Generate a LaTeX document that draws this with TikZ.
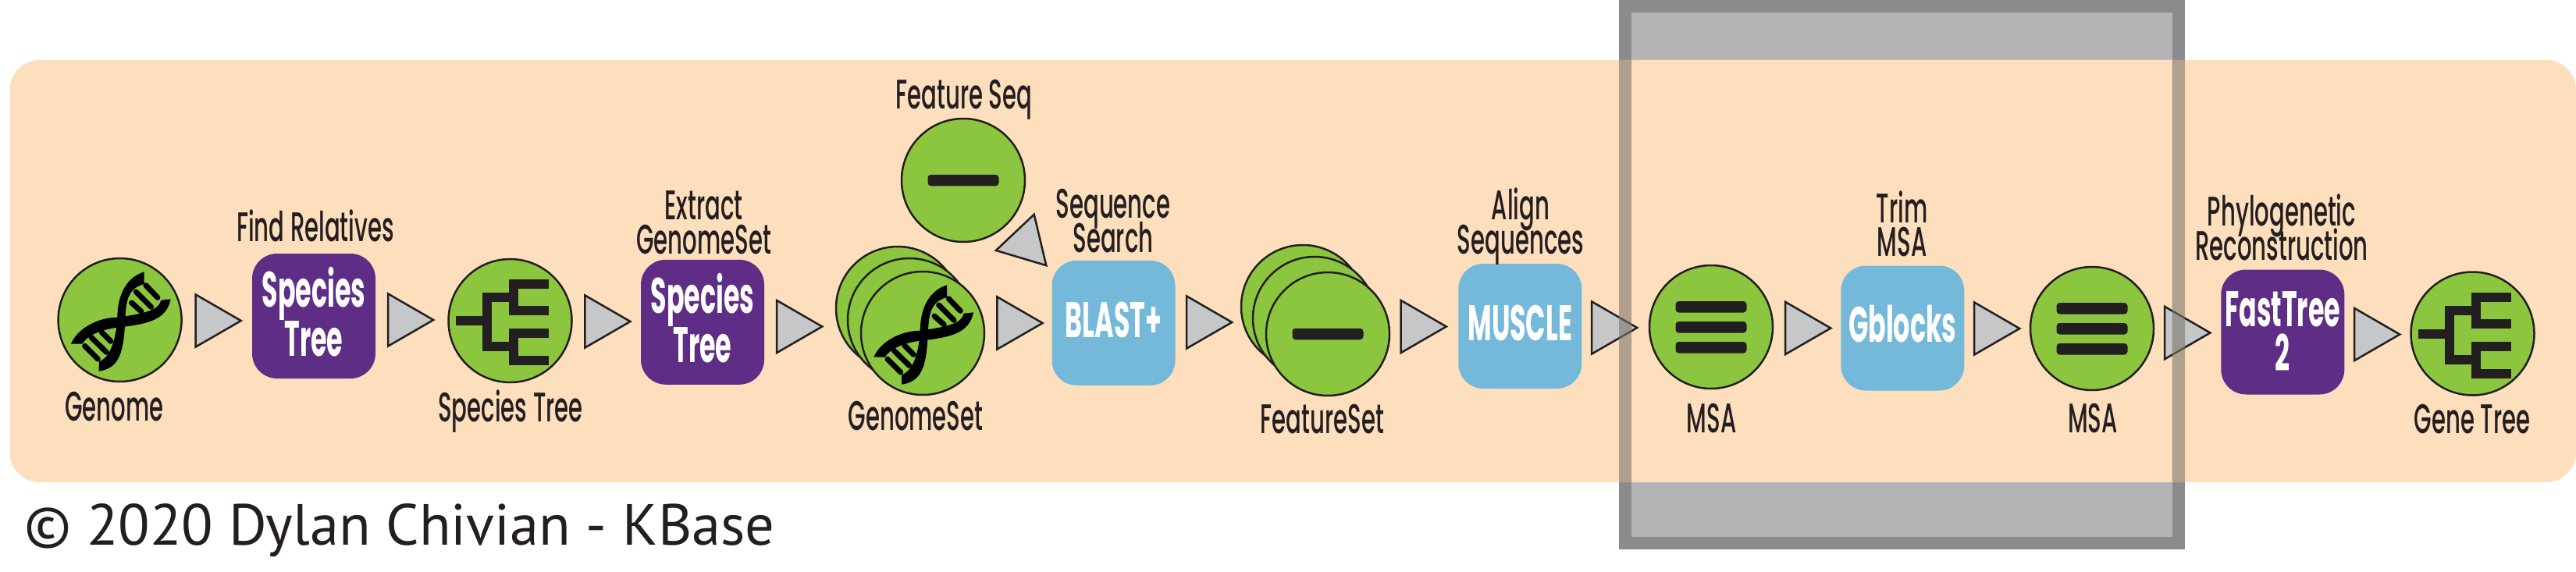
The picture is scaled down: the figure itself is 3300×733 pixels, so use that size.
\documentclass[tikz,border=0pt]{standalone}
\usepackage{fontspec}
\usetikzlibrary{arrows.meta,calc}
\setmainfont{Poppins Medium}[FakeStretch=0.55]
\newfontfamily\boxf{Poppins}[FakeStretch=0.52]
\newfontfamily\copyf{PT Sans}
\definecolor{peach}{HTML}{FDDFBD}
\definecolor{frameout}{HTML}{8B8B8D}
\definecolor{frameinn}{HTML}{B4B4B6}
\definecolor{frameover}{HTML}{7D766D}
\definecolor{leaf}{HTML}{8CC63F}
\definecolor{royal}{HTML}{5E2D85}
\definecolor{sky}{HTML}{74B9DA}
\definecolor{tipgray}{HTML}{C5C7C9}
\definecolor{ink}{HTML}{231F20}
\AtBeginDocument{\lineskiplimit=-1000pt\relax}
\newcommand\tline[2]{\raisebox{-#1}[0pt][0pt]{#2}}
\tikzset{
  datum/.style={circle,draw=ink,fill=leaf,line width=1.25pt,minimum size=79pt,inner sep=0pt},
  tool/.style={rectangle,rounded corners=16pt,draw=none,minimum width=79pt,minimum height=80pt,inner sep=0pt,outer sep=0pt,text=white,align=center,font=\boxf\bfseries\fontsize{32pt}{#1}\selectfont},
  royalbox/.style={tool=#1,fill=royal},
  royalbox/.default=31.5pt,
  skybox/.style={tool=30pt,fill=sky},
  lbl/.style={anchor=base,text=ink,align=center,inner sep=0pt,font=\fontsize{26.5pt}{#1}\selectfont},
  lbl/.default=21.7pt,
  flow/.style={draw=ink,line width=1.25pt,-{Triangle[length=31pt,width=35.5pt,fill=tipgray]}},
  pics/helix/.style={code={
    \fill[black] (31,-61.7) .. controls (10,-55) and (-3,-35) .. (-3.3,-3)
       .. controls (-5,25) and (-12,48) .. (-26.7,53.3) -- (-27,65.7)
       .. controls (0,62) and (5,40) .. (6.7,0.7)
       .. controls (8,-20) and (8,-40) .. (31,-46) -- cycle;
    \fill[black] (-62.7,30.7) .. controls (-55,12) and (-30,-3) .. (-3.3,-3.3)
       .. controls (30,-8) and (50,-12) .. (52.7,-25.3) -- (65,-26.7)
       .. controls (60,0) and (35,5) .. (3,9)
       .. controls (-20,11) and (-40,18) .. (-48.3,30.7) -- cycle;
    \draw[black,line width=3.5pt,line cap=round]
       (33.3,-44.3)--(48.3,-28.7) (20.7,-36)--(40,-16.7) (15,-22)--(27.3,-11)
       (-23.3,15.7)--(-11.7,27.3) (-36.7,22.3)--(-17.3,41.3) (-45,33.3)--(-28.3,50);
  }},
  pics/treeicon/.style={code={
    \draw[ink,line width=6pt] (-70,0)--(-30,0) (4,-30)--(-30,-30)--(-30,33)--(4,33)
      (49,-47)--(4,-47)--(4,-13)--(49,-13) (49,16)--(4,16)--(4,51)--(49,51);
  }},
  pics/dash/.style={code={
    \fill[ink,rounded corners=2pt] (-45.5,-7.25) rectangle (45.5,7.25);
  }},
  pics/bars/.style={code={
    \fill[ink,rounded corners=2pt] (-45.5,-33) rectangle (45.5,-18.5) (-45.5,-7) rectangle (45.5,7.5) (-45.5,19) rectangle (45.5,33.5);
  }}
}
\newcommand\flowtip[5]{\draw[flow,shorten <=#4*0.5pt,shorten >=#5*0.5pt] (#1.east |- 0,#3) -- (#2.west |- 0,#3);}
\begin{document}
\begin{tikzpicture}[x=0.5pt,y=-0.5pt]
\useasboundingbox (0,0) rectangle (3300,733);
% grey frame behind the band
\fill[frameout] (2074,0) rectangle (2799,703.6);
\fill[frameinn] (2090,16) rectangle (2782.6,688);
% band
\fill[peach,rounded corners=19pt] (12.6,77) rectangle (3300,618);
% data and tools
\node[datum] (genome) at (153.6,410) {};
\pic at (genome.center) {helix};
\node[royalbox] (findrel) at (402,405) {\tline{10pt}{Species}\\\tline{10pt}{Tree}};
\node[datum] (sptree) at (653.5,411) {};
\pic at (sptree.center) {treeicon};
\node[royalbox] (extract) at (900,412.8) {\tline{10pt}{Species}\\\tline{10pt}{Tree}};
\node[datum] (gsa) at (1150,395) {};
\node[datum] (gsb) at (1165,410) {};
\node[datum] (gsc) at (1182,427) {};
\pic at (gsc.center) {helix};
\node[datum] (fseq) at (1234,231) {};
\pic at (fseq.center) {dash};
\node[skybox] (blast) at (1426.5,413.8) {\tline{9.3pt}{BLAST+}};
\node[datum] (fsa) at (1669,393) {};
\node[datum] (fsb) at (1684,408) {};
\node[datum] (fsc) at (1701,428) {};
\pic at (fsc.center) {dash};
\node[skybox] (muscle) at (1947.3,418) {\tline{9.3pt}{MUSCLE}};
\node[datum] (msaa) at (2192,419) {};
\pic at (msaa.center) {bars};
\node[skybox] (gblocks) at (2437.3,420.5) {\tline{9pt}{Gblocks}};
\node[datum] (msab) at (2680,421) {};
\pic at (msab.center) {bars};
\node[royalbox=28.8pt] (fasttree) at (2924.3,425.5) {\tline{10.8pt}{FastTree}\\\tline{10.8pt}{2}};
\node[datum] (genetree) at (3167.5,427.5) {};
\pic at (genetree.center) {treeicon};
% connectors
\flowtip{genome}{findrel}{411}{21.4}{11.7}
\flowtip{findrel}{sptree}{410}{19.6}{15.5}
\flowtip{sptree}{extract}{412}{19.5}{11}
\flowtip{extract}{gsc}{418.5}{20}{46}
\flowtip{gsc}{blast}{414}{19}{9.4}
\flowtip{blast}{fsc}{413}{18.6}{40}
\flowtip{fsc}{muscle}{418.5}{18.6}{13}
\flowtip{muscle}{msaa}{420}{17.2}{12}
\flowtip{msaa}{gblocks}{420.5}{20}{10.5}
\flowtip{gblocks}{msab}{421}{17}{10}
\flowtip{msab}{fasttree}{426.5}{17.5}{11.4}
\flowtip{fasttree}{genetree}{428.5}{17}{10.5}
\coordinate (blastcorner) at (1342,342);
\draw[flow,shorten <=10pt] (fseq.south east) -- (blastcorner);
% labels
\node[lbl] (lgenome) at (146.5,539.5) {Genome};
\node[lbl] (lsptree) at (654,540) {Species Tree};
\node[lbl] (lgs) at (1173,551.4) {GenomeSet};
\node[lbl] (lfs) at (1694,555.7) {FeatureSet};
\node[lbl] (lmsaa) at (2192.7,554) {MSA};
\node[lbl] (lmsab) at (2681,554) {MSA};
\node[lbl] (lgene) at (3167,555.4) {Gene Tree};
\node[lbl] (lfseq) at (1235,139.4) {Feature Seq};
\node[lbl] (lfind) at (404,309) {Find Relatives};
\node[lbl] (lextract) at (901.5,325) {Extract\\GenomeSet};
\node[lbl] (lsearch) at (1426,323) {Sequence\\Search};
\node[lbl] (lalign) at (1948,325) {Align\\Sequences};
\node[lbl] (ltrim) at (2436.6,328.5) {Trim\\MSA};
\node[lbl] (lphylo) at (2923,333) {Phylogenetic\\Reconstruction};
\node[anchor=base west,inner sep=0pt,text=ink,font=\copyf\fontsize{37.2pt}{40pt}\selectfont] (copyr) at (31,698.6) {© 2020 Dylan Chivian - KBase};
% frame seen through the band
\fill[frameover,fill opacity=0.6] (2074,77) rectangle (2090,618) (2782.6,77) rectangle (2799,618);
\end{tikzpicture}
\end{document}
